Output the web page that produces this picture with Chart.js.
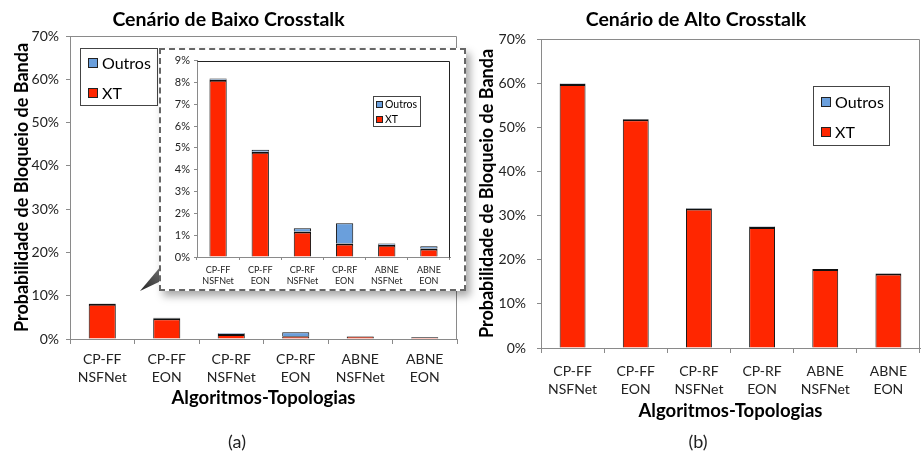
<!DOCTYPE html>
<html>
<head>
<meta charset="utf-8">
<script src="https://cdn.jsdelivr.net/npm/chart.js@4"></script>
<style>
  html, body { margin: 0; padding: 0; background: #fff; }
  #wrap { position: relative; width: 922px; height: 461px; overflow: hidden; font-family: Lato, "Liberation Sans", sans-serif; }
  canvas { position: absolute; display: block; }
  #cLow { left: 0; top: 0; }
  #cHigh { left: 472px; top: 0; }
  #zoomBox { position: absolute; left: 159px; top: 48px; width: 307px; height: 243px; box-sizing: border-box;
             border: 2px dashed #666; background: #fff; box-shadow: 4px 5px 8px rgba(0,0,0,0.35); }
  #zoomBox canvas { left: 0; top: 0; }
  #pointer { position: absolute; left: 0; top: 0; }
  .cap { position: absolute; top: 430px; font-size: 18px; color: #222; transform: translateX(-50%); }
</style>
</head>
<body>
<div id="wrap">
  <canvas id="cLow" width="475" height="415"></canvas>
  <canvas id="cHigh" width="450" height="428"></canvas>
  <svg id="pointer" width="922" height="461">
    <defs>
      <linearGradient id="pg" x1="0" y1="1" x2="1" y2="0">
        <stop offset="0" stop-color="#222"/>
        <stop offset="1" stop-color="#777"/>
      </linearGradient>
    </defs>
    <polygon points="140,291 161,266 161,281" fill="url(#pg)"/>
  </svg>
  <div id="zoomBox"><canvas id="cZoom" width="303" height="239"></canvas></div>
  <div class="cap" style="left:237px;">(a)</div>
  <div class="cap" style="left:698px;">(b)</div>
</div>
<script>
// Algorithm / topology pairs on the x axis
const categories = [
  ['CP-FF', 'NSFNet'], ['CP-FF', 'EON'],
  ['CP-RF', 'NSFNet'], ['CP-RF', 'EON'],
  ['ABNE', 'NSFNet'], ['ABNE', 'EON']
];
const seriesNames = ['XT', 'Outros'];

// Blocking probability (%) - low crosstalk scenario
const lowXT     = [8.12, 4.82, 1.17, 0.62, 0.56, 0.39];
const lowOutros = [0.06, 0.10, 0.15, 0.93, 0.06, 0.10];

// Blocking probability (%) - high crosstalk scenario
const highXT     = [59.8, 51.8, 31.6, 27.4, 17.9, 16.9];
const highOutros = [0.10, 0.10, 0.10, 0.15, 0.02, 0.02];

// Axis ranges
const mainAxisMax = 70, mainAxisStep = 10;
const zoomAxisMax = 9,  zoomAxisStep = 1;

const titleLow  = 'Cenário de Baixo Crosstalk';
const titleHigh = 'Cenário de Alto Crosstalk';
const yTitle = 'Probabilidade de Bloqueio de Banda';
const xTitle = 'Algoritmos-Topologias';

const RED = '#ff2600';
const BLUE = '#6a9fdc';
const AXIS = '#8a8a8a';
const TEXT = '#222';
const FONT = 'Lato, "Liberation Sans", sans-serif';

// Top/right frame around the plotting area
const framePlugin = {
  id: 'frame',
  afterDatasetsDraw(chart, args, o) {
    const a = chart.chartArea, ctx = chart.ctx;
    ctx.save();
    ctx.strokeStyle = o.color || AXIS;
    ctx.lineWidth = 1;
    ctx.beginPath();
    ctx.moveTo(Math.round(a.left) + 0.5, Math.round(a.top) + 0.5);
    ctx.lineTo(Math.round(a.right) - 0.5, Math.round(a.top) + 0.5);
    ctx.lineTo(Math.round(a.right) - 0.5, Math.round(a.bottom) + 0.5);
    ctx.stroke();
    ctx.restore();
  }
};

// Boxed legend placed inside the plot, series listed top to bottom in stack order
const boxLegendPlugin = {
  id: 'boxLegend',
  afterDraw(chart, args, o) {
    const ctx = chart.ctx;
    ctx.save();
    ctx.fillStyle = '#fff';
    ctx.fillRect(o.x, o.y, o.w, o.h);
    ctx.strokeStyle = o.border || '#777';
    ctx.lineWidth = 1;
    ctx.strokeRect(o.x + 0.5, o.y + 0.5, o.w, o.h);
    const items = chart.data.datasets.slice().reverse();
    ctx.font = o.fontSize + 'px ' + FONT;
    ctx.textBaseline = 'middle';
    items.forEach((d, i) => {
      const cy = o.y + o.first + i * o.row;
      ctx.fillStyle = d.backgroundColor;
      ctx.fillRect(o.x + o.sx, Math.round(cy - o.s / 2), o.s, o.s);
      ctx.strokeStyle = '#222';
      ctx.strokeRect(o.x + o.sx + 0.5, Math.round(cy - o.s / 2) + 0.5, o.s - 1, o.s - 1);
      ctx.fillStyle = '#000';
      ctx.fillText(d.label, o.x + o.tx, cy + 1);
    });
    ctx.restore();
  }
};

function datasets(xt, outros, bw) {
  return [
    { label: seriesNames[0], data: xt, backgroundColor: RED, borderColor: '#111',
      borderWidth: { top: 2, left: 1, right: 1, bottom: 0 },
      categoryPercentage: 1, barPercentage: bw },
    { label: seriesNames[1], data: outros, backgroundColor: BLUE, borderColor: '#111', borderWidth: 1,
      categoryPercentage: 1, barPercentage: bw }
  ];
}

function makeChart(id, cfg) {
  return new Chart(document.getElementById(id), {
    type: 'bar',
    data: { labels: categories, datasets: datasets(cfg.xt, cfg.outros, cfg.bw) },
    plugins: [framePlugin, boxLegendPlugin],
    options: {
      responsive: false,
      animation: false,
      events: [],
      layout: { padding: cfg.padding },
      plugins: {
        legend: { display: false },
        tooltip: { enabled: false },
        title: cfg.title ? {
          display: true, text: cfg.title, color: '#000',
          font: { family: FONT, size: 19.5, weight: 'bold', lineHeight: 1.2 },
          padding: cfg.titlePad
        } : { display: false },
        frame: { color: cfg.frameColor },
        boxLegend: cfg.legend
      },
      scales: {
        x: {
          stacked: true,
          grid: { offset: true, drawOnChartArea: false, drawTicks: true, tickLength: cfg.xTickLen, color: AXIS },
          border: { color: AXIS, width: 1 },
          ticks: { color: TEXT, padding: cfg.xTickPad, maxRotation: 0, autoSkip: false,
                   font: { family: FONT, size: cfg.xFont, lineHeight: cfg.xLine } },
          title: cfg.xTitle ? { display: true, text: cfg.xTitle, color: '#000',
                   font: { family: FONT, size: 18.5, weight: 'bold', lineHeight: 1.2 },
                   padding: cfg.xTitlePad } : { display: false },
          afterFit(s) { s.height = cfg.xHeight; }
        },
        y: {
          stacked: true,
          min: 0, max: cfg.max,
          grid: { drawOnChartArea: false, drawTicks: true, tickLength: cfg.yTickLen, color: AXIS },
          border: { color: AXIS, width: 1 },
          ticks: { stepSize: cfg.step, color: TEXT, padding: cfg.yTickPad,
                   font: { family: FONT, size: cfg.yFont },
                   callback: v => v + '%' },
          title: cfg.yTitle ? { display: true, text: cfg.yTitle, color: '#000',
                   font: { family: FONT, size: 18, weight: 'bold', lineHeight: 1.2 },
                   padding: cfg.yTitlePad } : { display: false },
          afterFit(s) { s.width = cfg.yWidth; }
        }
      }
    }
  });
}

// (a) low crosstalk
makeChart('cLow', {
  xt: lowXT, outros: lowOutros, bw: 0.42,
  max: mainAxisMax, step: mainAxisStep,
  title: titleLow, titlePad: { top: 8.3, bottom: 4.3 },
  padding: { left: 0, right: 18, top: 0, bottom: 0 },
  xTitle: xTitle, yTitle: yTitle,
  xHeight: 76, yWidth: 70,
  xTickLen: 5, xTickPad: 6, xFont: 14, xLine: 1.3, xTitlePad: { top: 4, bottom: 6 },
  yTickLen: 4, yTickPad: 7, yFont: 14, yTitlePad: { top: 11, bottom: 0 },
  frameColor: AXIS,
  legend: { x: 80, y: 48, w: 77, h: 57, first: 15, row: 30, sx: 8, s: 10, tx: 22, fontSize: 16, border: '#444' }
});

// (b) high crosstalk
makeChart('cHigh', {
  xt: highXT, outros: highOutros, bw: 0.41,
  max: mainAxisMax, step: mainAxisStep,
  title: titleHigh, titlePad: { top: 8.3, bottom: 7.3 },
  padding: { left: 0, right: 2, top: 0, bottom: 0 },
  xTitle: xTitle, yTitle: yTitle,
  xHeight: 80, yWidth: 69,
  xTickLen: 5, xTickPad: 9, xFont: 14, xLine: 1.3, xTitlePad: { top: 4, bottom: 6 },
  yTickLen: 4, yTickPad: 11, yFont: 14, yTitlePad: { top: 4, bottom: 0 },
  frameColor: AXIS,
  legend: { x: 341, y: 86, w: 76, h: 59, first: 16, row: 30, sx: 8, s: 10, tx: 22, fontSize: 16, border: '#444' }
});

// magnified view of (a)
makeChart('cZoom', {
  xt: lowXT, outros: lowOutros, bw: 0.41,
  max: zoomAxisMax, step: zoomAxisStep,
  title: null,
  padding: { left: 0, right: 14, top: 7, bottom: 0 },
  xTitle: null, yTitle: null,
  xHeight: 32, yWidth: 36,
  xTickLen: 3, xTickPad: 4, xFont: 9, xLine: 1.3,
  yTickLen: 3, yTickPad: 4, yFont: 11,
  frameColor: '#222',
  legend: { x: 212, y: 46, w: 47, h: 30, first: 8, row: 15, sx: 3, s: 7, tx: 12, fontSize: 10.5, border: '#444' }
});
</script>
</body>
</html>
